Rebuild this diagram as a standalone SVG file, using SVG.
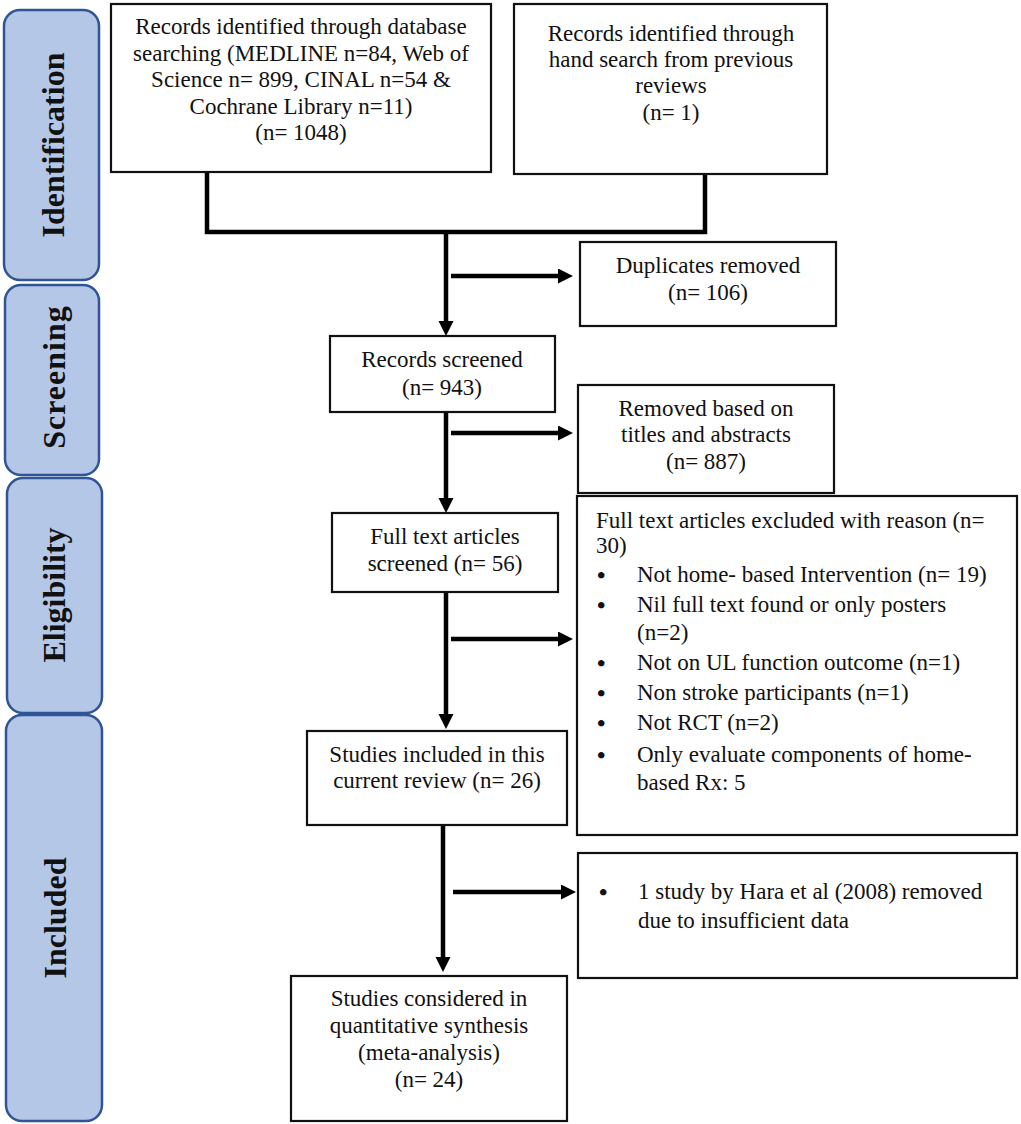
<svg xmlns="http://www.w3.org/2000/svg" width="1021" height="1124" viewBox="0 0 1021 1124">
<style>
.phase{fill:#b4c7e7;stroke:#2f5597;stroke-width:2.5}
.ptxt{font-family:"Liberation Serif","Times New Roman",serif;font-size:32px;font-weight:bold;fill:#111;text-anchor:middle}
.box{fill:#fff;stroke:#111;stroke-width:2.2}
.t{font-family:"Liberation Serif","Times New Roman",serif;font-size:23px;fill:#111}
.c{text-anchor:middle}
.b{font-family:"Liberation Serif","Times New Roman",serif;font-size:24px;font-weight:bold;fill:#111}
.ln{stroke:#000;stroke-width:4.5;fill:none}
</style>
<defs>
<marker id="ah" markerUnits="userSpaceOnUse" markerWidth="16" markerHeight="16" refX="3" refY="7.5" orient="auto">
<path d="M0,0 L15,7.5 L0,15 z" fill="#000"/>
</marker>
</defs>
<rect width="1021" height="1124" fill="#fff"/>

<g id="phase-identification">
<rect class="phase" x="4" y="10" width="95" height="270" rx="16"/>
<text class="ptxt" transform="translate(64,145) rotate(-90)">Identification</text>
</g>
<g id="phase-screening">
<rect class="phase" x="5" y="285" width="94" height="190" rx="16"/>
<text class="ptxt" transform="translate(65,377) rotate(-90)" letter-spacing="1">Screening</text>
</g>
<g id="phase-eligibility">
<rect class="phase" x="7" y="478" width="95" height="235" rx="16"/>
<text class="ptxt" transform="translate(65,595) rotate(-90)">Eligibility</text>
</g>
<g id="phase-included">
<rect class="phase" x="6" y="715" width="96" height="406" rx="16"/>
<text class="ptxt" transform="translate(66,918) rotate(-90)">Included</text>
</g>

<g id="connectors">
<polyline class="ln" points="207,172 207,232 705,232 705,174"/>
<line class="ln" x1="446" y1="232" x2="446" y2="324" marker-end="url(#ah)"/>
<line class="ln" x1="451" y1="276" x2="561" y2="276" marker-end="url(#ah)"/>
<line class="ln" x1="446" y1="412" x2="446" y2="501" marker-end="url(#ah)"/>
<line class="ln" x1="451" y1="433" x2="561" y2="433" marker-end="url(#ah)"/>
<line class="ln" x1="446" y1="592" x2="446" y2="717" marker-end="url(#ah)"/>
<line class="ln" x1="451" y1="639" x2="561" y2="639" marker-end="url(#ah)"/>
<line class="ln" x1="443" y1="825" x2="443" y2="960" marker-end="url(#ah)"/>
<line class="ln" x1="453" y1="892" x2="564" y2="892" marker-end="url(#ah)"/>
</g>

<g id="records-database">
<rect class="box" x="111" y="4" width="380" height="168"/>
<text class="t c" x="301" y="34">Records identified through database</text>
<text class="t c" x="301" y="61">searching (MEDLINE n=84, Web of</text>
<text class="t c" x="301" y="87">Science n= 899, CINAL n=54 &amp;</text>
<text class="t c" x="301" y="114">Cochrane Library n=11)</text>
<text class="t c" x="301" y="140">(n= 1048)</text>
</g>
<g id="records-hand">
<rect class="box" x="514" y="4" width="313" height="170"/>
<text class="t c" x="671" y="41">Records identified through</text>
<text class="t c" x="671" y="67">hand search from previous</text>
<text class="t c" x="671" y="93">reviews</text>
<text class="t c" x="671" y="120">(n= 1)</text>
</g>
<g id="duplicates">
<rect class="box" x="580" y="242" width="256" height="84"/>
<text class="t c" x="708" y="273">Duplicates removed</text>
<text class="t c" x="708" y="300">(n= 106)</text>
</g>
<g id="records-screened">
<rect class="box" x="330" y="336" width="225" height="76"/>
<text class="t c" x="442" y="367">Records screened</text>
<text class="t c" x="442" y="395">(n= 943)</text>
</g>
<g id="removed-titles">
<rect class="box" x="578" y="385" width="256" height="108"/>
<text class="t c" x="706" y="416">Removed based on</text>
<text class="t c" x="706" y="442">titles and abstracts</text>
<text class="t c" x="706" y="469">(n= 887)</text>
</g>
<g id="full-text-screened">
<rect class="box" x="332" y="513" width="226" height="79"/>
<text class="t c" x="445" y="544">Full text articles</text>
<text class="t c" x="445" y="571">screened (n= 56)</text>
</g>
<g id="full-text-excluded">
<rect class="box" x="577" y="496" width="440" height="339"/>
<text class="t" x="596" y="528">Full text articles excluded with reason (n=</text>
<text class="t" x="596" y="553">30)</text>
<text class="b" x="597" y="583">•</text><text class="t" x="637" y="582">Not home- based Intervention (n= 19)</text>
<text class="b" x="597" y="613">•</text><text class="t" x="637" y="612">Nil full text found or only posters</text>
<text class="t" x="637" y="640">(n=2)</text>
<text class="b" x="597" y="671">•</text><text class="t" x="637" y="670">Not on UL function outcome (n=1)</text>
<text class="b" x="597" y="701">•</text><text class="t" x="637" y="700">Non stroke participants (n=1)</text>
<text class="b" x="597" y="731">•</text><text class="t" x="637" y="730">Not RCT (n=2)</text>
<text class="b" x="597" y="763">•</text><text class="t" x="637" y="762">Only evaluate components of home-</text>
<text class="t" x="637" y="790">based Rx: 5</text>
</g>
<g id="studies-included">
<rect class="box" x="307" y="731" width="260" height="94"/>
<text class="t c" x="437" y="762">Studies included in this</text>
<text class="t c" x="437" y="788">current review (n= 26)</text>
</g>
<g id="hara-removed">
<rect class="box" x="578" y="853" width="439" height="125"/>
<text class="b" x="599" y="900">•</text><text class="t" x="638" y="899">1 study by Hara et al (2008) removed</text>
<text class="t" x="638" y="928">due to insufficient data</text>
</g>
<g id="studies-considered">
<rect class="box" x="291" y="976" width="276" height="145"/>
<text class="t c" x="429" y="1006">Studies considered in</text>
<text class="t c" x="429" y="1033">quantitative synthesis</text>
<text class="t c" x="429" y="1060">(meta-analysis)</text>
<text class="t c" x="429" y="1087">(n= 24)</text>
</g>
</svg>
